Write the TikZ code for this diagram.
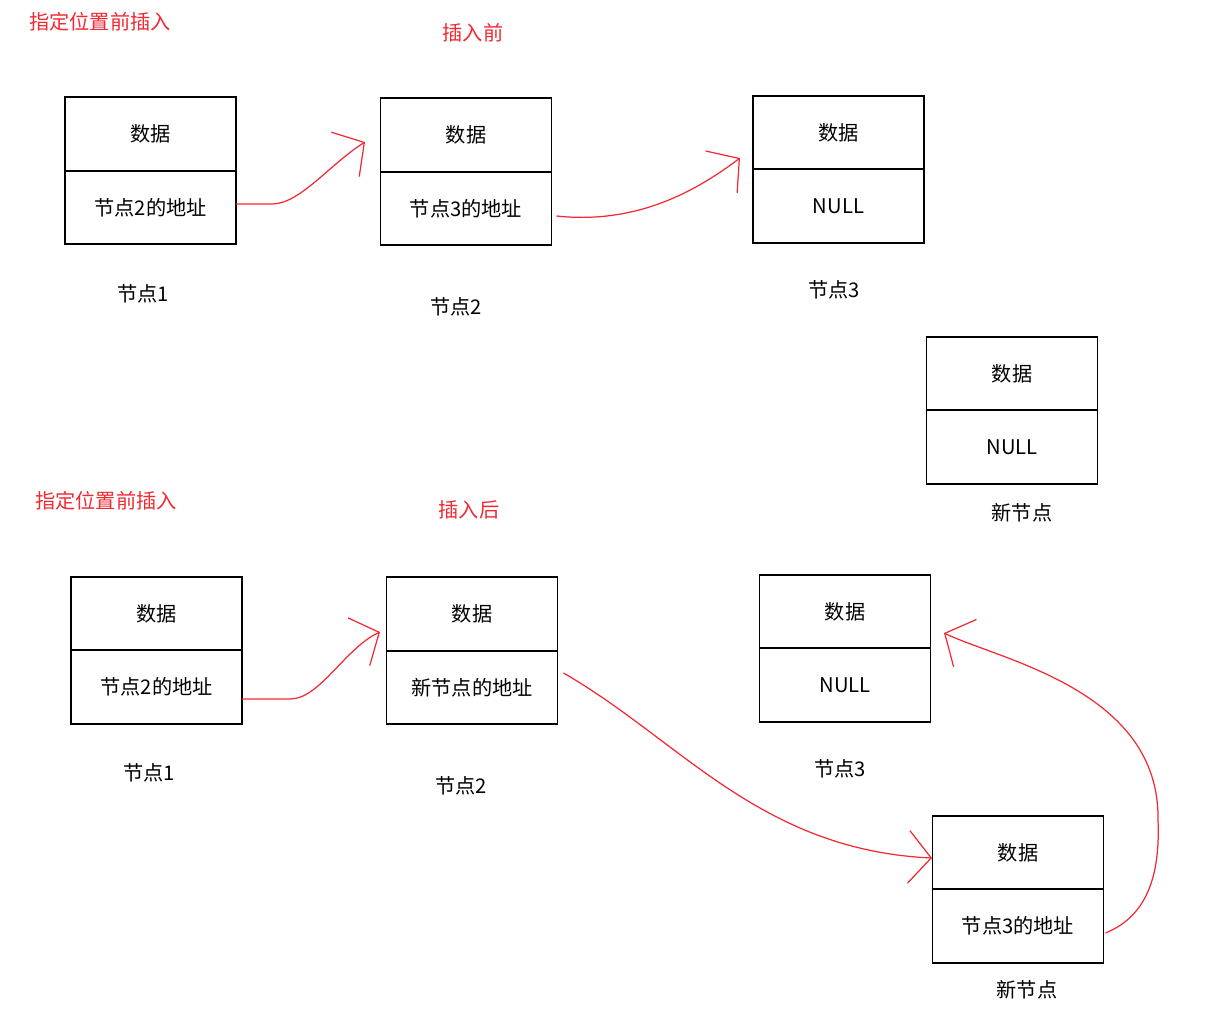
\documentclass[tikz,border=0pt]{standalone}
\usepackage{fontspec}
\newfontfamily\cjk{Noto Sans CJK SC}
\usetikzlibrary{positioning,arrows.meta}
\definecolor{penred}{RGB}{242,40,50}
\tikzset{
	cell/.style={draw, line width=1.1pt, minimum width=3.42cm, minimum height=1.47cm,
		inner sep=0pt, outer sep=0pt, font=\cjk\fontsize{11.5}{14}\selectfont},
	caption/.style={font=\cjk\fontsize{11.5}{14}\selectfont},
	heading/.style={text=penred, font=\cjk\fontsize{11.5}{14}\selectfont},
	pen/.style={draw=penred, line width=0.7pt, -{Straight Barb[length=0.45cm,width=1.05cm]}}
}
\begin{document}
\begin{tikzpicture}[x=0.02cm, y=-0.02cm]
	\useasboundingbox (0,0) rectangle (1226,1008);
	\node[heading] (h1) at (100,22) {指定位置前插入};
	\node[heading] (h2) at (473,33) {插入前};
	\node[heading] (h3) at (106,501) {指定位置前插入};
	\node[heading] (h4) at (469,510) {插入后};

	\node[cell] (t1d) at (150.5,134) {数据};
	\node[cell, below=0pt of t1d] (t1a) {节点2的地址};
	\node[caption] (t1n) at (143,294) {节点1};
	\node[cell] (t2d) at (466,135) {数据};
	\node[cell, below=0pt of t2d] (t2a) {节点3的地址};
	\node[caption] (t2n) at (456,307) {节点2};
	\node[cell] (t3d) at (838.5,132.5) {数据};
	\node[cell, below=0pt of t3d] (t3a) {NULL};
	\node[caption] (t3n) at (834,290) {节点3};
	\node[cell] (tnd) at (1012,373.5) {数据};
	\node[cell, below=0pt of tnd] (tna) {NULL};
	\node[caption] (tnn) at (1022,513) {新节点};

	\node[cell] (b1d) at (156.5,613.5) {数据};
	\node[cell, below=0pt of b1d] (b1a) {节点2的地址};
	\node[caption] (b1n) at (149,773) {节点1};
	\node[cell] (b2d) at (472,614) {数据};
	\node[cell, below=0pt of b2d] (b2a) {新节点的地址};
	\node[caption] (b2n) at (461,786) {节点2};
	\node[cell] (b3d) at (845,611.5) {数据};
	\node[cell, below=0pt of b3d] (b3a) {NULL};
	\node[caption] (b3n) at (840,769) {节点3};
	\node[cell] (bnd) at (1018,852.5) {数据};
	\node[cell, below=0pt of bnd] (bna) {节点3的地址};
	\node[caption] (bnn) at (1027,990) {新节点};

	\coordinate (tipA) at (365,142);
	\coordinate (tipB) at (740,158);
	\coordinate (tipC) at (380,632);
	\coordinate (tipD) at (932,858);
	\coordinate (tipE) at (944,633);
	\draw[pen] ([yshift=0.07cm]t1a.east) -- (272,204) .. controls (300,204) and (330,164) .. (tipA);
	\draw[pen] ([xshift=0.1cm,yshift=-0.15cm]t2a.east) .. controls (640,225) and (700,188) .. (tipB);
	\draw[pen] ([yshift=-0.24cm]b1a.east) -- (290,699) .. controls (320,699) and (345,648) .. (tipC);
	\draw[pen] ([xshift=0.12cm,yshift=0.29cm]b2a.east) .. controls (680,740) and (760,850) .. (tipD);
	\draw[pen] ([xshift=0.04cm,yshift=-0.14cm]bna.east) .. controls (1150,915) and (1160,870) .. (1158,820)
		.. controls (1160,690) and (1000,660) .. (tipE);
\end{tikzpicture}
\end{document}
